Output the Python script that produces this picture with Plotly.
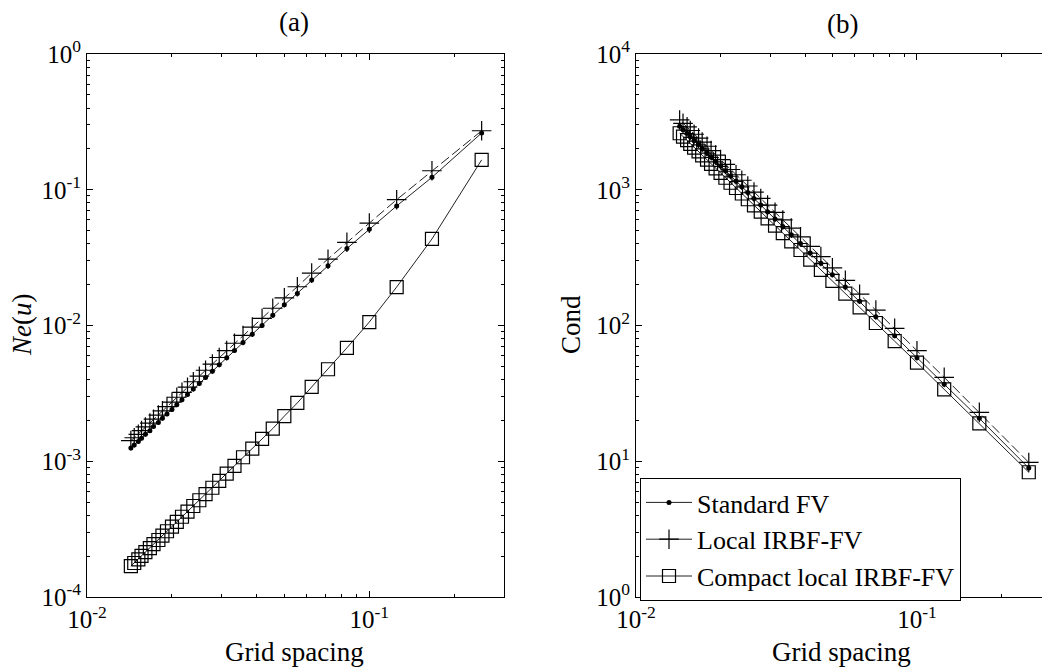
import plotly.graph_objects as go

grid_spacing = [0.25, 0.1667, 0.125, 0.1, 0.0833, 0.0714, 0.0625, 0.0556, 0.05, 0.0455,
                0.0417, 0.0385, 0.0357, 0.0333, 0.03125, 0.0294, 0.0278, 0.0263, 0.025, 0.0238,
                0.0227, 0.0217, 0.0208, 0.02, 0.0192, 0.0185, 0.0179, 0.0172, 0.0167, 0.0161,
                0.0156, 0.0152, 0.0147, 0.0143]

ne_standard = [0.262, 0.1235, 0.0760, 0.0511, 0.0369, 0.0275, 0.0216, 0.0172, 0.0142, 0.0119,
               0.0100, 0.00862, 0.00748, 0.00655, 0.00578, 0.00514, 0.00460, 0.00414, 0.00374, 0.00340,
               0.00310, 0.00284, 0.00261, 0.00241, 0.00223, 0.00207, 0.00193, 0.00180, 0.00168, 0.00158,
               0.00148, 0.00140, 0.00132, 0.00125]
ne_local = [0.272, 0.138, 0.0845, 0.0568, 0.0410, 0.0308, 0.0243, 0.0193, 0.0160, 0.0134,
            0.0113, 0.00973, 0.00845, 0.00740, 0.00653, 0.00581, 0.00520, 0.00468, 0.00423, 0.00385,
            0.00351, 0.00322, 0.00296, 0.00273, 0.00253, 0.00235, 0.00219, 0.00204, 0.00191, 0.00179,
            0.00168, 0.00158, 0.00149, 0.00142]
ne_compact = [0.166, 0.0434, 0.0192, 0.0106, 0.00684, 0.00476, 0.00353, 0.00269, 0.00215, 0.00174,
              0.00146, 0.00124, 0.00107, 0.000925, 0.000810, 0.000716, 0.000638, 0.000572, 0.000516, 0.000468,
              0.000426, 0.000390, 0.000358, 0.000330, 0.000305, 0.000283, 0.000263, 0.000245, 0.000229, 0.000214,
              0.000201, 0.000189, 0.000178, 0.000169]

cond_standard = [8.9, 20.7, 36.9, 57.9, 84.0, 116, 151, 192, 237, 288,
                 342, 402, 467, 536, 610, 689, 773, 862, 955, 1054,
                 1157, 1265, 1378, 1495, 1618, 1746, 1877, 2014, 2156, 2303,
                 2454, 2610, 2772, 2942]
cond_local = [9.8, 22.9, 41.5, 65.2, 95.3, 130, 170, 215, 266, 322,
              383, 450, 522, 599, 682, 770, 863, 962, 1066, 1175,
              1290, 1410, 1536, 1666, 1802, 1944, 2091, 2243, 2400, 2563,
              2731, 2904, 3083, 3267]
cond_compact = [8.3, 19.0, 33.9, 53.2, 76.6, 104.3, 136, 172, 213, 257,
                306, 360, 417, 479, 545, 615, 690, 768, 851, 938,
                1030, 1126, 1226, 1330, 1439, 1551, 1668, 1790, 1915, 2045,
                2179, 2317, 2460, 2607]

series_names = ["Standard FV", "Local IRBF-FV", "Compact local IRBF-FV"]
x_tick_vals = [0.01, 0.1]
x_tick_text = ["10<sup>-2</sup>", "10<sup>-1</sup>"]
ya_tick_vals = [1e-4, 1e-3, 1e-2, 1e-1, 1]
ya_tick_text = ["10<sup>-4</sup>", "10<sup>-3</sup>", "10<sup>-2</sup>", "10<sup>-1</sup>", "10<sup>0</sup>"]
yb_tick_vals = [1, 10, 100, 1000, 10000]
yb_tick_text = ["10<sup>0</sup>", "10<sup>1</sup>", "10<sup>2</sup>", "10<sup>3</sup>", "10<sup>4</sup>"]

FONT = "Liberation Serif, Times New Roman, serif"
LINE = "#222222"

styles = [
    dict(marker=dict(symbol="circle", size=5, color="black"), line=dict(color=LINE, width=1)),
    dict(marker=dict(symbol="cross-thin", size=14, color="black", line=dict(color="black", width=1.2)),
         line=dict(color=LINE, width=1, dash="10px,4px")),
    dict(marker=dict(symbol="square-open", size=13, color="black", line=dict(color="black", width=1.2)),
         line=dict(color=LINE, width=1)),
]

fig = go.Figure()
for ys, xa, ya in [((ne_standard, ne_local, ne_compact), "x", "y"),
                   ((cond_standard, cond_local, cond_compact), "x2", "y2")]:
    for name, yv, st in zip(series_names, ys, styles):
        fig.add_trace(go.Scatter(x=grid_spacing, y=yv, mode="lines+markers", name=name,
                                 marker=st["marker"], line=st["line"], showlegend=False,
                                 xaxis=xa, yaxis=ya))

# legend entries (solid line samples as in the reference)
for name, st in zip(series_names, styles):
    ln = dict(st["line"])
    ln["dash"] = "solid"
    fig.add_trace(go.Scatter(x=[None], y=[None], mode="lines+markers", name=name,
                             marker=st["marker"], line=ln, showlegend=True, xaxis="x2", yaxis="y2"))


def minor_vals(lo, hi):
    out = []
    for e in range(lo, hi):
        for k in range(2, 10):
            out.append(k * 10 ** e)
    return out


def axis(domain, rng, tv, tt, anchor, mirror, minors):
    return dict(type="log", domain=domain, range=rng, anchor=anchor, automargin=False,
                tickmode="array", tickvals=tv, ticktext=tt,
                ticks="inside", ticklen=6, tickwidth=1, tickcolor="black",
                showline=True, linecolor="black", linewidth=1, mirror=mirror,
                showgrid=False, zeroline=False,
                tickfont=dict(family=FONT, size=25, color="black"),
                minor=dict(ticks="inside", ticklen=3, tickcolor="black", tickwidth=1,
                           tickvals=minors, showgrid=False))


YD = [1 - 597 / 670, 1 - 54 / 670]
fig.update_layout(
    width=1042, height=670,
    margin=dict(l=0, r=0, t=0, b=0, autoexpand=False),
    paper_bgcolor="white", plot_bgcolor="white",
    font=dict(family=FONT, size=25, color="black"),
    xaxis=axis([87 / 1042, 504 / 1042], [-2, 0.4771 - 1], x_tick_vals, x_tick_text, "y", "ticks", minor_vals(-2, 0)),
    yaxis=axis(YD, [-4, 0], ya_tick_vals, ya_tick_text, "x", "ticks", minor_vals(-4, 0)),
    xaxis2=axis([636 / 1042, 1.0], [-2, -0.555], x_tick_vals, x_tick_text, "y2", "ticks", minor_vals(-2, 0)),
    yaxis2=axis(YD, [0, 4], yb_tick_vals, yb_tick_text, "x2", False, minor_vals(0, 4)),
    showlegend=True,
    legend=dict(x=640 / 1042, y=1 - 478 / 670, xanchor="left", yanchor="top",
                bgcolor="white", bordercolor="black", borderwidth=1, itemwidth=46,
                font=dict(family=FONT, size=26, color="black"), tracegroupgap=0),
)

annos = [
    dict(text="(a)", x=294 / 1042, y=1 - 22 / 670),
    dict(text="(b)", x=842 / 1042, y=1 - 24 / 670),
    dict(text="Grid spacing", x=294 / 1042, y=1 - 652 / 670),
    dict(text="Grid spacing", x=841 / 1042, y=1 - 652 / 670),
    dict(text="<i>Ne</i>(<i>u</i>)", x=22 / 1042, y=1 - 325 / 670, textangle=-90),
    dict(text="Cond", x=571 / 1042, y=1 - 325 / 670, textangle=-90),
]
for a in annos:
    fig.add_annotation(xref="paper", yref="paper", showarrow=False, xanchor="center", yanchor="middle",
                       font=dict(family=FONT, size=27, color="black"), **a)

fig.write_html("out.html", config={"displayModeBar": False},
               post_script="document.body.style.margin='0';document.body.style.overflow='hidden';")
